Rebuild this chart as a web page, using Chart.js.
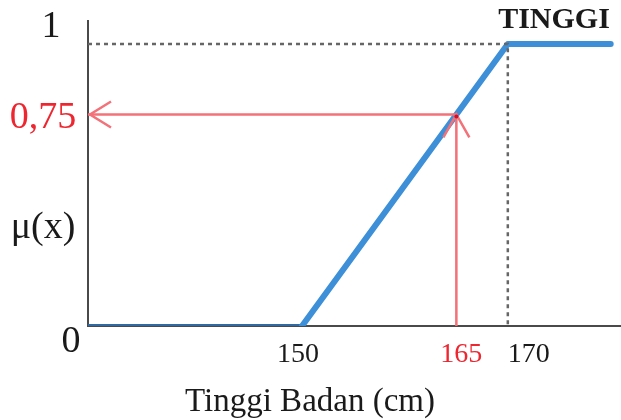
<!DOCTYPE html>
<html>
<head>
<meta charset="utf-8">
<script src="https://cdn.jsdelivr.net/npm/chart.js@4"></script>
<style>
  body { margin: 0; background: #fff; }
  #wrap { width: 621px; height: 420px; }
</style>
</head>
<body>
<div id="wrap"><canvas id="mycanvas" width="621" height="420"></canvas></div>
<script>
// membership function "TINGGI" (tall)
const heightX = [129.2, 150, 170, 180];
const membership = [0, 0, 1, 1];
const queryX = 165;
const queryMu = 0.75;
const xTicks = [150, 165, 170];
const yTicks = [0, 0.75, 1];
const yTickLabels = ["0", "0,75", "1"];
const xTitle = "Tinggi Badan (cm)";
const yTitle = "\u03bc(x)";
const setName = "TINGGI";

const RED_LINE = "#f37179";
const RED_TEXT = "#ee2630";
const AXIS = "#4a4a4a";
const BLUE = "#3d8fd8";
const SERIF = "'Liberation Serif', 'DejaVu Serif', serif";

function pts(xs, ys) {
  return xs.map((x, i) => ({ x: x, y: ys[i] }));
}

// axes, arrows and all the text
const drawExtras = {
  id: "drawExtras",
  beforeDatasetsDraw(chart) {
    const c = chart.ctx, a = chart.chartArea;
    c.save();
    c.strokeStyle = AXIS;
    c.lineWidth = 2;
    c.beginPath();
    c.moveTo(a.left, a.top);
    c.lineTo(a.left, a.bottom);
    c.lineTo(a.right, a.bottom);
    c.stroke();
    c.restore();
  },
  afterDatasetsDraw(chart) {
    const c = chart.ctx;
    const xs = chart.scales.x, ys = chart.scales.y;
    const px = xs.getPixelForValue(queryX);
    const py = ys.getPixelForValue(queryMu);
    const left = chart.chartArea.left;

    c.save();
    // arrow heads
    c.strokeStyle = RED_LINE;
    c.lineWidth = 2.5;
    c.beginPath();
    c.moveTo(left + 23, py - 13);
    c.lineTo(left + 2, py);
    c.lineTo(left + 23, py + 13);
    c.moveTo(px - 13, py + 23);
    c.lineTo(px, py);
    c.lineTo(px + 13, py + 23);
    c.stroke();
    c.fillStyle = "#c8102e";
    c.beginPath();
    c.arc(px, py + 2, 2, 0, Math.PI * 2);
    c.fill();

    // y tick labels
    c.textAlign = "center";
    c.textBaseline = "alphabetic";
    c.font = "38px " + SERIF;
    yTicks.forEach((v, i) => {
      const y = ys.getPixelForValue(v);
      c.fillStyle = v === queryMu ? RED_TEXT : "#1a1a1a";
      let cx = 43, by = y + 14;
      if (v === 1) { cx = 51; by = y - 7; }
      if (v === 0) { cx = 71; by = y + 26; }
      c.fillText(yTickLabels[i], cx, by);
    });
    c.fillStyle = "#1a1a1a";
    c.fillText(yTitle, 43, 238);

    // x tick labels
    c.font = "28px " + SERIF;
    xTicks.forEach((v) => {
      const x = xs.getPixelForValue(v);
      c.fillStyle = v === queryX ? RED_TEXT : "#1a1a1a";
      const off = v === 170 ? 21 : v === queryX ? 5 : -4;
      c.fillText(String(v), x + off, 362);
    });
    c.fillStyle = "#1a1a1a";
    c.font = "33px " + SERIF;
    c.fillText(xTitle, 310, 411);

    c.font = "bold 30px " + SERIF;
    c.fillText(setName, 554, 28);
    c.restore();
  }
};

new Chart(document.getElementById("mycanvas"), {
  type: "scatter",
  data: {
    datasets: [
      {
        // dashed guide at mu = 1
        data: pts([heightX[0], 170, 170], [1, 1, 0]),
        showLine: true,
        borderColor: "#666",
        borderWidth: 2.5,
        borderDash: [4, 4],
        pointRadius: 0,
      },
      {
        // red guide: 165 -> 0.75
        data: pts([queryX, queryX, heightX[0]], [0, queryMu, queryMu]),
        showLine: true,
        borderColor: RED_LINE,
        borderWidth: 2.5,
        pointRadius: 0,
      },
      {
        data: pts(heightX, membership),
        showLine: true,
        borderColor: BLUE,
        borderWidth: 6,
        borderCapStyle: "round",
        borderJoinStyle: "round",
        pointRadius: 0,
        segment: {
          borderColor: (ctx) => (ctx.p0DataIndex === 0 ? "#2f6aa3" : BLUE),
          borderWidth: (ctx) => (ctx.p0DataIndex === 0 ? 4 : 6),
        },
      },
    ],
  },
  options: {
    responsive: false,
    animation: false,
    devicePixelRatio: 1,
    layout: { padding: { left: 88, top: 20, right: 0, bottom: 94 } },
    plugins: { legend: { display: false }, tooltip: { enabled: false } },
    scales: {
      x: { type: "linear", min: 129.2, max: 181, display: false },
      y: { type: "linear", min: 0, max: 1.085, display: false },
    },
  },
  plugins: [drawExtras],
});
</script>
</body>
</html>
